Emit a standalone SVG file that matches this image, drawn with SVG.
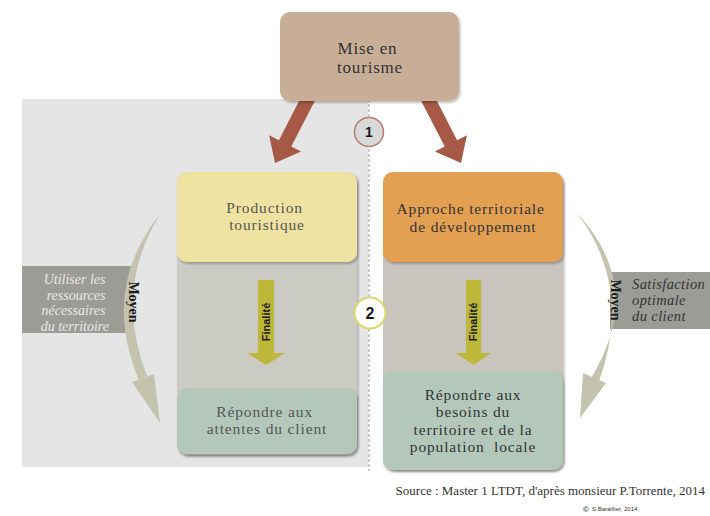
<svg xmlns="http://www.w3.org/2000/svg" width="710" height="516" viewBox="0 0 710 516">
  <style>
    .t { font-family: "Liberation Serif", "DejaVu Serif", serif; text-anchor: middle; }
    .box { font-size: 15.5px; letter-spacing: 0.85px; }
    .dark { fill: #333333; }
    .mid { fill: #555555; }
    .it { font-family: "Liberation Serif", "DejaVu Serif", serif; font-style: italic; }
    .lab { font-family: "Liberation Sans", "DejaVu Sans", sans-serif; font-weight: bold; fill: #1a1a1a; }
    .moy { font-family: "Liberation Serif", "DejaVu Serif", serif; font-weight: bold; fill: #1a1a1a; font-size: 14px; }
  </style>
  <defs>
    <filter id="sh" x="-10%" y="-10%" width="125%" height="125%">
      <feDropShadow dx="1.5" dy="2" stdDeviation="1.2" flood-color="#000" flood-opacity="0.25"/>
    </filter>
  </defs>

  <rect width="710" height="516" fill="#ffffff"/>

  <!-- left background zone -->
  <rect x="22" y="99" width="346" height="368" fill="#e5e5e5"/>
  <!-- vertical separator -->
  <line x1="369" y1="99" x2="369" y2="471" stroke="#a8a8a8" stroke-width="1.2" stroke-dasharray="3 2"/>

  <!-- side labels -->
  <g id="label-left">
    <rect x="22" y="266" width="112" height="67" fill="#9c9c97"/>
    <text class="it" font-size="14" fill="#e8e8e8" text-anchor="end">
      <tspan x="109" y="284">Utiliser les</tspan>
      <tspan x="109" y="300">ressources</tspan>
      <tspan x="109" y="315">nécessaires</tspan>
      <tspan x="109" y="331">du territoire</tspan>
    </text>
  </g>
  <g id="label-right">
    <rect x="610" y="272" width="100" height="57" fill="#9c9c97"/>
    <text class="it" font-size="14.5" letter-spacing="0.4" fill="#333333">
      <tspan x="632" y="289">Satisfaction</tspan>
      <tspan x="632" y="305">optimale</tspan>
      <tspan x="632" y="321">du client</tspan>
    </text>
  </g>

  <!-- columns -->
  <g id="col-left">
    <rect x="177" y="172" width="180" height="283" rx="10" fill="#cbcbc4" filter="url(#sh)"/>
  </g>
  <g id="col-right">
    <rect x="383" y="172" width="180" height="298" rx="10" fill="#c9c5be" filter="url(#sh)"/>
  </g>

  <g id="connectors">
    <!-- brown arrows from the top box -->
    <polygon points="303.8,91.8 278.9,140.2 269.1,135.2 275,163 301.1,151.6 291.3,146.6 316.2,98.2" fill="#a65a46"/>
    <polygon points="432.2,91.8 457.1,140.2 466.9,135.2 461,163 434.9,151.6 444.7,146.6 419.8,98.2" fill="#a65a46"/>

    <!-- finalité arrows -->
    <polygon points="258,280 274,280 274,353 285,353 266,365 247,353 258,353" fill="#bdb83a"/>
    <polygon points="466,280 481,280 481,353 491,353 473.5,365 456,353 466,353" fill="#bdb83a"/>

    <!-- curved "moyen" arrows -->
    <path d="M161,213 Q100,288 139,380 L147,376 Q113,288 161,213 Z" fill="#c3c3ae"/>
    <polygon points="132,382 160,423 154,374" fill="#c3c3ae"/>
    <path d="M577,213 Q647,288 590,380 L598,384 Q634,288 577,213 Z" fill="#c3c3ae"/>
    <polygon points="583,373 580,418 606,383" fill="#c3c3ae"/>
  </g>

  <!-- arrow labels -->
  <text class="moy" transform="translate(129,302) rotate(90)" text-anchor="middle">Moyen</text>
  <text class="moy" transform="translate(611,300) rotate(90)" text-anchor="middle">Moyen</text>
  <text class="lab" font-size="11" transform="translate(270,322) rotate(-90)" text-anchor="middle">Finalité</text>
  <text class="lab" font-size="11" transform="translate(477,322) rotate(-90)" text-anchor="middle">Finalité</text>

  <!-- top node -->
  <g id="node-mise">
    <rect x="280" y="12" width="179" height="89" rx="10" fill="#c8ae97" filter="url(#sh)"/>
    <text class="t dark" font-size="17" letter-spacing="0.8">
      <tspan x="370" y="54">Mise en</tspan>
      <tspan x="370" y="73">tourisme</tspan>
    </text>
  </g>

  <g id="node-production">
    <rect x="177" y="172" width="180" height="90" rx="10" fill="#efe3a1" filter="url(#sh)"/>
    <text class="t box mid">
      <tspan x="267" y="213">Production</tspan>
      <tspan x="267" y="230">touristique</tspan>
    </text>
  </g>

  <g id="node-approche">
    <rect x="383" y="172" width="180" height="90" rx="10" fill="#e3a052" filter="url(#sh)"/>
    <text class="t box dark">
      <tspan x="473" y="214">Approche territoriale</tspan>
      <tspan x="473" y="232">de développement</tspan>
    </text>
  </g>

  <g id="node-attentes">
    <rect x="177" y="388" width="180" height="66" rx="10" fill="#b3c8bb" filter="url(#sh)"/>
    <text class="t box mid">
      <tspan x="267" y="417">Répondre aux</tspan>
      <tspan x="267" y="434">attentes du client</tspan>
    </text>
  </g>

  <g id="node-besoins">
    <rect x="383" y="371" width="180" height="99" rx="10" fill="#b3c8bb" filter="url(#sh)"/>
    <text class="t box dark" xml:space="preserve"><tspan x="473" y="400">Répondre aux</tspan><tspan x="473" y="417">besoins du</tspan><tspan x="473" y="435">territoire et de la</tspan><tspan x="473" y="452">population  locale</tspan></text>
  </g>

  <!-- step markers -->
  <g id="step-1">
    <circle cx="369" cy="132" r="14.5" fill="#d9d9d9" stroke="#b87a6a" stroke-width="1.5"/>
    <text class="lab" font-size="14" x="369" y="137" text-anchor="middle">1</text>
  </g>
  <g id="step-2">
    <circle cx="370" cy="313" r="15.5" fill="#ffffff" stroke="#dcd66a" stroke-width="2"/>
    <text class="lab" font-size="16" x="370" y="319" text-anchor="middle">2</text>
  </g>

  <!-- credits -->
  <text font-family="Liberation Serif, DejaVu Serif, serif" font-size="13" fill="#333333" x="705" y="495" text-anchor="end">Source : Master 1 LTDT, d'après monsieur P.Torrente, 2014</text>
  <text x="583" y="512" font-family="Liberation Sans, sans-serif" font-size="8" font-weight="bold" fill="#333333">©</text>
  <text x="592" y="511" font-family="Liberation Sans, sans-serif" font-size="6" fill="#333333">S.Baraillier, 2014</text>
</svg>
